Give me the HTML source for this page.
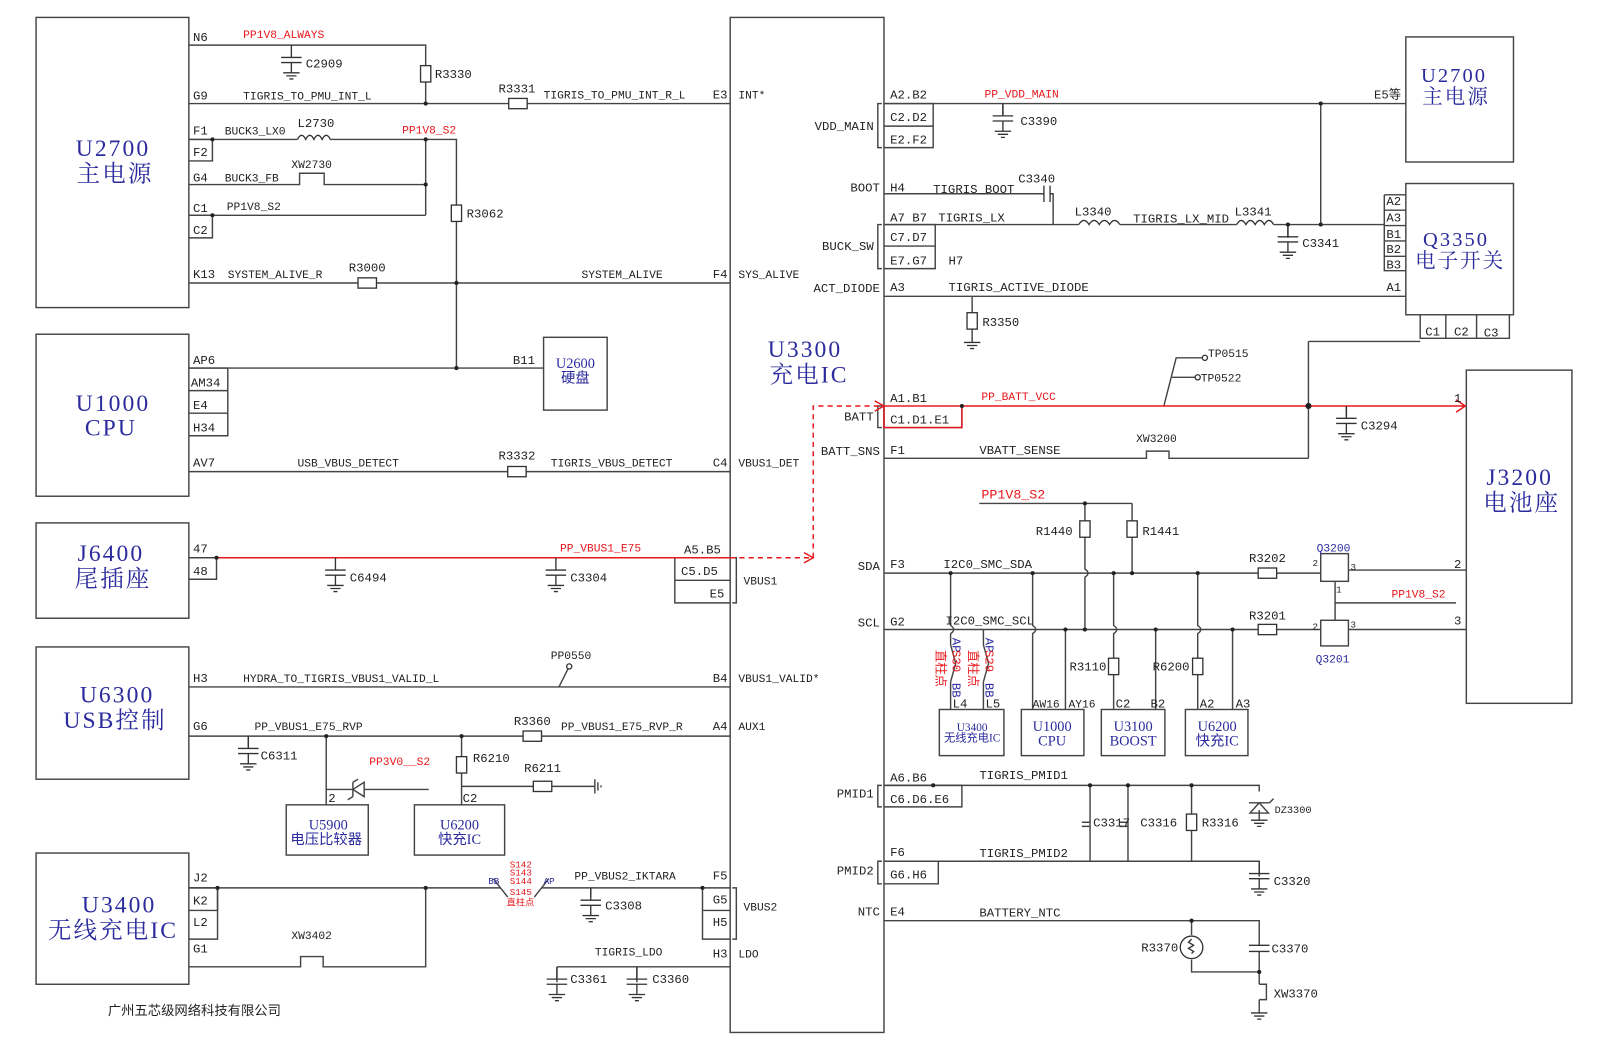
<!DOCTYPE html>
<html><head><meta charset="utf-8"><style>
html,body{margin:0;padding:0;background:#fff}
svg{display:block}
text{font-family:"Liberation Mono","Noto Sans CJK SC",monospace;font-size:12px;fill:#222}
.r{fill:#e8161b}.b{fill:#2b2b9e}
.t{font-family:"Liberation Serif","Noto Serif CJK SC","Noto Sans CJK SC",serif;font-size:23px;fill:#2b2b9e;text-anchor:middle;letter-spacing:2px}
.t2{font-size:20px}
.s{font-family:"Liberation Serif","Noto Sans CJK SC",serif;font-size:14px;fill:#2b2b9e;text-anchor:middle}
.e{text-anchor:end}
</style></head><body>
<svg width="1608" height="1055" viewBox="0 0 1568 1029" xmlns="http://www.w3.org/2000/svg">
<defs>
<g id="cg" fill="none" stroke="#333" stroke-width="1.3"><path d="M0 0V12M-10 12H10M-10 17H10M0 17V27M-8 27H8M-5 30H5M-2 33H2"/></g>
<g id="rv"><rect x="-5" y="-8" width="10" height="16" fill="#fff" stroke="#333" stroke-width="1.3"/></g>
<g id="rh"><rect x="-9" y="-5" width="18" height="10" fill="#fff" stroke="#333" stroke-width="1.3"/></g>
<g id="gnd" fill="none" stroke="#333" stroke-width="1.3"><path d="M-8 0H8M-5 3H5M-2 6H2"/></g>
</defs>
<rect width="1568" height="1029" fill="#fff"/>
<g fill="none" stroke="#444" stroke-width="1.4">
<rect x="35" y="17" width="149" height="283"/>
<rect x="35" y="326" width="149" height="158"/>
<rect x="35" y="510" width="149" height="93"/>
<rect x="35" y="631" width="149" height="129"/>
<rect x="35" y="832" width="149" height="128"/>
<rect x="712" y="17" width="150" height="990"/>
<rect x="1371" y="36" width="105" height="122"/>
<rect x="1371" y="179" width="105" height="128"/>
<rect x="1430" y="361" width="103" height="325"/>
<rect x="530" y="329" width="62" height="71"/>
<rect x="279" y="785" width="80" height="49"/>
<rect x="404" y="785" width="88" height="49"/>
<rect x="916" y="692" width="63" height="45"/>
<rect x="996" y="692" width="61" height="45"/>
<rect x="1074" y="692" width="62" height="45"/>
<rect x="1156" y="692" width="61" height="45"/>
<rect x="1288" y="540" width="27" height="27"/>
<rect x="1288" y="605" width="27" height="25"/>
<path d="M184 136H207V157H184M184 210H207V232H184M184 359H222V425H184M184 381H222M184 403H222M184 544H211V565H184M184 866H212V916H184M184 888H212"/>
<path d="M658 544V588H712M658 566H712M685 866V916H712M685 888H712"/>
<path d="M1350 190H1371M1350 205V264H1371M1350 220H1371M1350 235H1371M1350 250H1371M1350 190V205H1371"/>
<path d="M1385 307V330H1472V307M1410 307V330M1440 307V330"/>
<path d="M862 101H910V144H862M862 123H910M862 219H912V262H862M862 240H912M862 396V417H938V396M862 766H938V787H862M862 840H915V862H862"/>
<path d="M860 101H856V144H860M860 219H856V262H860M860 396H856V417H860M860 766H856V787H860M860 840H856V862H860M714 544H718V588H714M714 866H718V916H714"/>
<path d="M184 44H415V101M184 101H712M184 136H290M322 136H445V200M445 216V359M184 180H292V169H316V180H415M415 136V210M184 210H415M184 276H712M184 359H530M184 460H712M184 670H712M545 670L555 650M184 718H712M318 718V785M318 770H344M355 770H418M450 718V785M450 767H520M538 767H580M184 866H488M528 866H712M212 866V888M184 943H293V933H315V943H415V866M543 943H712M543 943V958M621 943V958M685 866H712M576 866V875M242 718V728"/>
<path d="M344 763V777M355 763L344 770L355 777ZM344 763L349 760M344 777L339 780"/>
<path d="M580 760V774M583 763V771M586 766V768"/>
<path d="M488 866L481 857M488 866L495 875M528 866L535 857M528 866L521 875"/>
<path d="M862 101H1371M1288 101V219M978 101V112M862 189H1018M1024 189H1027V219M862 219H1052M1092 219H1206M1242 219H1350M1256 219V232M862 289H1371M948 289V305M948 321V334M1276 333H1385M1276 333V447M862 447H1118V440H1140V447H1276M1313 396V405M1135 396L1147 349L1172 349M1143 368L1168 368"/>
<path d="M955 491H1104M1058 491V508M1058 524V555Q1064 559 1058 563V614M1104 491V559M862 559H1227M1245 559H1288M862 614H1227M1245 614H1288M1315 556H1430M1315 614H1430M1302 567V605M1302 588H1420"/>
<path d="M927 559V610Q933 614 927 618V629M927 665V692M959 614V629M959 665V692M1007 559V610Q1013 614 1007 618V692M1039 614V692M1086 559V610Q1092 614 1086 618V642M1086 658V692M1127 614V692M1168 559V610Q1174 614 1168 618V642M1168 658V692M1202 614V692"/>
<path d="M927 629L932 647M927 665L932 647M959 629L964 647M959 665L964 647"/>
<path d="M862 766H1228V772M862 840H1228V855M1063 766V840M1100 766V840M1162 766V794M1162 810V840M1055 802H1063M1055 806H1063M1092 802H1100M1092 806H1100M1228 790V800M1218 783L1238 783M1228 783L1219 793H1237ZM1238 783L1242 779M862 898H1228V922M1162 898V912M1162 936V948H1228M1228 928V960M1228 975V988M1228 960H1235V975H1228"/>
</g>
<g fill="none" stroke="#e8161b" stroke-width="1.4">
<path d="M211 544H712"/>
<path d="M712 544H790M793 544V396H860" stroke-dasharray="5 4"/>
<path d="M784 539L793 544L784 549M853 391L862 396L853 401"/>
<path d="M938 396H1428M1420 390L1429 396L1420 402"/>
<rect x="862" y="396" width="76" height="21"/>
</g>
<g fill="none" stroke="#333" stroke-width="1.3">
<path d="M290 136q4-8 8 0q4-8 8 0q4-8 8 0q4-8 8 0"/>
<path d="M1052 219q5-8 10 0q5-8 10 0q5-8 10 0q5-8 10 0"/>
<path d="M1206 219q4.5-8 9 0q4.5-8 9 0q4.5-8 9 0q4.5-8 9 0"/>
<path d="M1018 181V197M1024 181V197"/>
<circle cx="1162" cy="924" r="11" fill="#fff"/>
<path d="M1162 916l-3 3 5 3-5 3 5 3-2 2"/>
<circle cx="555" cy="650" r="2.5" fill="#fff"/>
<circle cx="1175" cy="349" r="2.5" fill="#fff"/>
<circle cx="1168" cy="368" r="2.5" fill="#fff"/>
</g>
<use href="#cg" x="284" y="44"/><use href="#rv" x="415" y="72"/><use href="#rv" x="445" y="208"/>
<use href="#rh" x="505" y="101"/><use href="#rh" x="358" y="276"/><use href="#rh" x="504" y="460"/>
<use href="#cg" x="327" y="544"/><use href="#cg" x="542" y="544"/><use href="#cg" x="242" y="718"/>
<use href="#rh" x="519" y="718"/><use href="#rv" x="450" y="746"/><use href="#rh" x="529" y="767"/>
<use href="#cg" x="576" y="866"/><use href="#cg" x="543" y="943"/><use href="#cg" x="621" y="943"/>
<use href="#cg" x="978" y="101"/><use href="#cg" x="1256" y="219"/><use href="#rv" x="948" y="313"/>
<use href="#gnd" x="948" y="334"/><use href="#cg" x="1313" y="396"/>
<use href="#rv" x="1058" y="516"/><use href="#rv" x="1104" y="516"/>
<use href="#rh" x="1236" y="559"/><use href="#rh" x="1236" y="614"/>
<use href="#rv" x="1086" y="650"/><use href="#rv" x="1168" y="650"/><use href="#rv" x="1162" y="802"/>
<use href="#cg" x="1228" y="840"/><use href="#gnd" x="1228" y="800"/><use href="#gnd" x="1228" y="988"/>
<path d="M1218 922H1238M1218 928H1238" stroke="#333" stroke-width="1.3"/>
<g fill="#222">
<circle cx="415" cy="101" r="2"/><circle cx="415" cy="136" r="2"/><circle cx="415" cy="180" r="2"/><circle cx="207" cy="136" r="2"/><circle cx="207" cy="210" r="2"/><circle cx="445" cy="276" r="2"/><circle cx="445" cy="359" r="2"/><circle cx="211" cy="544" r="2"/><circle cx="318" cy="718" r="2"/><circle cx="450" cy="718" r="2"/><circle cx="212" cy="866" r="2"/><circle cx="415" cy="866" r="2"/><circle cx="685" cy="866" r="2"/><circle cx="1288" cy="101" r="2"/><circle cx="1288" cy="219" r="2"/><circle cx="1256" cy="219" r="2"/><circle cx="1276" cy="396" r="3"/><circle cx="938" cy="396" r="2"/><circle cx="1058" cy="491" r="2"/>
<circle cx="927" cy="559" r="2"/><circle cx="1007" cy="559" r="2"/><circle cx="1086" cy="559" r="2"/><circle cx="1104" cy="559" r="2"/><circle cx="1168" cy="559" r="2"/><circle cx="1039" cy="614" r="2"/><circle cx="1058" cy="614" r="2"/><circle cx="1127" cy="614" r="2"/><circle cx="1202" cy="614" r="2"/><circle cx="910" cy="766" r="2"/><circle cx="1063" cy="766" r="2"/><circle cx="1100" cy="766" r="2"/><circle cx="1162" cy="766" r="2"/><circle cx="1162" cy="898" r="2"/><circle cx="1228" cy="948" r="2"/>
</g>
<text class="t" x="110" y="152">U2700</text><text class="t" x="112" y="177">主电源</text>
<text class="t" x="110" y="401">U1000</text><text class="t" x="108" y="425">CPU</text>
<text class="t" x="108" y="547">J6400</text><text class="t" x="110" y="572">尾插座</text>
<text class="t" x="114" y="685">U6300</text><text class="t" x="112" y="710">USB控制</text>
<text class="t" x="116" y="890">U3400</text><text class="t" x="110" y="915">无线充电IC</text>
<text class="t" x="785" y="348">U3300</text><text class="t" x="789" y="373">充电IC</text>
<text class="t t2" x="1418" y="80">U2700</text><text class="t t2" x="1420" y="101">主电源</text>
<text class="t t2" x="1420" y="240">Q3350</text><text class="t t2" x="1424" y="261">电子开关</text>
<text class="t" x="1482" y="473">J3200</text><text class="t" x="1484" y="498">电池座</text>
<text class="s" x="561" y="359">U2600</text><text class="s" x="561" y="373">硬盘</text>
<text class="s" x="320" y="809">U5900</text><text class="s" x="318" y="823">电压比较器</text>
<text class="s" x="448" y="809">U6200</text><text class="s" x="448" y="823">快充IC</text>
<text class="s" x="948" y="713" style="font-size:11px">U3400</text><text class="s" x="948" y="723" style="font-size:11px">无线充电IC</text>
<text class="s" x="1026" y="713">U1000</text><text class="s" x="1026" y="727">CPU</text>
<text class="s" x="1105" y="713">U3100</text><text class="s" x="1105" y="727">BOOST</text>
<text class="s" x="1187" y="713">U6200</text><text class="s" x="1187" y="727">快充IC</text>
<text x="188" y="40">N6</text><text class="r" x="237" y="37" style="font-size:11px">PP1V8_ALWAYS</text><text x="298" y="66">C2909</text><text x="424" y="76">R3330</text>
<text x="188" y="97">G9</text><text x="237" y="97" style="font-size:11px">TIGRIS_TO_PMU_INT_L</text><text x="486" y="90">R3331</text><text x="530" y="96" style="font-size:11px">TIGRIS_TO_PMU_INT_R_L</text><text x="695" y="96">E3</text><text x="720" y="96" style="font-size:11px">INT*</text>
<text x="188" y="131">F1</text><text x="219" y="131" style="font-size:11px">BUCK3_LX0</text><text x="290" y="124">L2730</text><text class="r" x="392" y="130" style="font-size:11px">PP1V8_S2</text>
<text x="188" y="152">F2</text><text x="188" y="177">G4</text><text x="219" y="177" style="font-size:11px">BUCK3_FB</text><text x="284" y="164" style="font-size:11px">XW2730</text>
<text x="188" y="207">C1</text><text x="221" y="205" style="font-size:11px">PP1V8_S2</text><text x="188" y="228">C2</text><text x="455" y="212">R3062</text>
<text x="188" y="271">K13</text><text x="222" y="271" style="font-size:11px">SYSTEM_ALIVE_R</text><text x="340" y="265">R3000</text><text x="567" y="271" style="font-size:11px">SYSTEM_ALIVE</text><text x="695" y="271">F4</text><text x="720" y="271" style="font-size:11px">SYS_ALIVE</text>
<text x="188" y="355">AP6</text><text x="500" y="355">B11</text><text x="186" y="377">AM34</text><text x="188" y="399">E4</text><text x="188" y="421">H34</text>
<text x="188" y="455">AV7</text><text x="290" y="455" style="font-size:11px">USB_VBUS_DETECT</text><text x="486" y="448">R3332</text><text x="537" y="455" style="font-size:11px">TIGRIS_VBUS_DETECT</text><text x="695" y="455">C4</text><text x="720" y="455" style="font-size:11px">VBUS1_DET</text>
<text x="188" y="539">47</text><text x="188" y="561">48</text><text x="341" y="567">C6494</text><text x="556" y="567">C3304</text><text class="r" x="546" y="538" style="font-size:11px">PP_VBUS1_E75</text>
<text x="667" y="540">A5.B5</text><text x="664" y="561">C5.D5</text><text x="692" y="583">E5</text><text x="725" y="570" style="font-size:11px">VBUS1</text>
<text x="537" y="643" style="font-size:11px">PP0550</text><text x="188" y="665">H3</text><text x="237" y="665" style="font-size:11px">HYDRA_TO_TIGRIS_VBUS1_VALID_L</text><text x="695" y="665">B4</text><text x="720" y="665" style="font-size:11px">VBUS1_VALID*</text>
<text x="188" y="712">G6</text><text x="248" y="712" style="font-size:11px">PP_VBUS1_E75_RVP</text><text x="501" y="707">R3360</text><text x="547" y="712" style="font-size:11px">PP_VBUS1_E75_RVP_R</text><text x="695" y="712">A4</text><text x="720" y="712" style="font-size:11px">AUX1</text>
<text x="254" y="741">C6311</text><text class="r" x="360" y="746" style="font-size:11px">PP3V0__S2</text><text x="461" y="743">R6210</text><text x="511" y="753">R6211</text><text x="320" y="782">2</text><text x="451" y="782">C2</text>
<text x="188" y="860">J2</text><text x="188" y="882">K2</text><text x="188" y="903">L2</text><text x="188" y="929">G1</text><text x="284" y="916" style="font-size:11px">XW3402</text>
<text class="r" x="497" y="846" style="font-size:9px">S142</text><text class="r" x="497" y="854" style="font-size:9px">S143</text><text class="r" x="497" y="862" style="font-size:9px">S144</text><text class="r" x="497" y="873" style="font-size:9px">S145</text><text class="r" x="494" y="883" style="font-size:9px">直柱点</text>
<text class="b" x="476" y="862" style="font-size:9px">BB</text><text class="b" x="530" y="862" style="font-size:9px">AP</text>
<text x="560" y="858" style="font-size:11px">PP_VBUS2_IKTARA</text><text x="695" y="858">F5</text><text x="695" y="881">G5</text><text x="695" y="903">H5</text><text x="725" y="888" style="font-size:11px">VBUS2</text>
<text x="590" y="887">C3308</text><text x="580" y="932" style="font-size:11px">TIGRIS_LDO</text><text x="695" y="934">H3</text><text x="720" y="934" style="font-size:11px">LDO</text>
<text x="556" y="959">C3361</text><text x="636" y="959">C3360</text>
<text x="105" y="990" style="font-family:'Noto Sans CJK SC',sans-serif;font-size:13px">广州五芯级网络科技有限公司</text>
<g style="font-size:11px">
<text class="e" x="852" y="127">VDD_MAIN</text><text class="e" x="858" y="187">BOOT</text><text class="e" x="852" y="244">BUCK_SW</text><text class="e" x="858" y="285">ACT_DIODE</text><text class="e" x="852" y="410">BATT</text><text class="e" x="858" y="444">BATT_SNS</text><text class="e" x="858" y="556">SDA</text><text class="e" x="858" y="611">SCL</text><text class="e" x="852" y="778">PMID1</text><text class="e" x="852" y="853">PMID2</text><text class="e" x="858" y="893">NTC</text>
<text x="910" y="188">TIGRIS_BOOT</text><text x="915" y="216">TIGRIS_LX</text><text x="1105" y="217">TIGRIS_LX_MID</text><text x="925" y="284">TIGRIS_ACTIVE_DIODE</text><text x="955" y="443">VBATT_SENSE</text><text x="920" y="554">I2C0_SMC_SDA</text><text x="922" y="609">I2C0_SMC_SCL</text><text x="955" y="760">TIGRIS_PMID1</text><text x="955" y="836">TIGRIS_PMID2</text><text x="955" y="894">BATTERY_NTC</text><text x="1243" y="793" style="font-size:10px">DZ3300</text>
</g>
<text x="868" y="96">A2.B2</text><text x="868" y="118">C2.D2</text><text x="868" y="140">E2.F2</text><text class="r" x="960" y="95" style="font-size:11px">PP_VDD_MAIN</text><text x="995" y="122">C3390</text><text x="1340" y="96">E5等</text>
<text x="868" y="187">H4</text><text x="993" y="178">C3340</text><text x="868" y="216">A7 B7</text><text x="868" y="235">C7.D7</text><text x="868" y="258">E7.G7</text><text x="925" y="258">H7</text>
<text x="1048" y="210">L3340</text><text x="1204" y="210">L3341</text><text x="1270" y="241">C3341</text><text x="958" y="318">R3350</text>
<text x="1352" y="200">A2</text><text x="1352" y="216">A3</text><text x="1352" y="232">B1</text><text x="1352" y="247">B2</text><text x="1352" y="262">B3</text><text x="1352" y="284">A1</text>
<text x="1390" y="327">C1</text><text x="1418" y="327">C2</text><text x="1447" y="328">C3</text>
<text x="868" y="284">A3</text><text x="868" y="392">A1.B1</text><text x="868" y="413">C1.D1.E1</text><text class="r" x="957" y="390" style="font-size:11px">PP_BATT_VCC</text>
<text x="1178" y="348" style="font-size:11px">TP0515</text><text x="1171" y="372" style="font-size:11px">TP0522</text><text x="1418" y="392">1</text><text x="1327" y="419">C3294</text>
<text x="868" y="443">F1</text><text x="1108" y="431" style="font-size:11px">XW3200</text>
<text class="r" x="957" y="486" style="font-size:13px">PP1V8_S2</text><text x="1010" y="522">R1440</text><text x="1114" y="522">R1441</text>
<text x="868" y="554">F3</text><text x="868" y="610">G2</text><text x="1218" y="548">R3202</text><text x="1218" y="604">R3201</text>
<text class="b" x="1284" y="538" style="font-size:11px">Q3200</text><text class="b" x="1283" y="646" style="font-size:11px">Q3201</text>
<text x="1280" y="552" style="font-size:9px">2</text><text x="1317" y="556" style="font-size:9px">3</text><text x="1303" y="578" style="font-size:9px">1</text><text x="1280" y="614" style="font-size:9px">2</text><text x="1317" y="612" style="font-size:9px">3</text>
<text x="1418" y="554">2</text><text x="1418" y="609">3</text><text class="r" x="1357" y="583" style="font-size:11px">PP1V8_S2</text>
<text x="1043" y="654">R3110</text><text x="1124" y="654">R6200</text>
<text x="929" y="690">L4</text><text x="961" y="690">L5</text><text x="1007" y="690" style="font-size:11px">AW16</text><text x="1042" y="690" style="font-size:11px">AY16</text><text x="1088" y="690">C2</text><text x="1122" y="690">B2</text><text x="1170" y="690">A2</text><text x="1205" y="690">A3</text>
<g style="font-size:8px"><text class="r" transform="translate(913,634) rotate(90)">直柱点</text><text class="r" transform="translate(945,634) rotate(90)">直柱点</text><text class="b" transform="translate(929,622) rotate(90)">AP</text><text class="r" transform="translate(929,634) rotate(90)">S30</text><text class="b" transform="translate(929,666) rotate(90)">BB</text><text class="b" transform="translate(961,622) rotate(90)">AP</text><text class="r" transform="translate(961,634) rotate(90)">S29</text><text class="b" transform="translate(961,666) rotate(90)">BB</text></g>
<text x="868" y="762">A6.B6</text><text x="868" y="783">C6.D6.E6</text><text x="868" y="835">F6</text><text x="868" y="857">G6.H6</text><text x="868" y="893">E4</text>
<text x="1066" y="806">C3317</text><text x="1112" y="806">C3316</text><text x="1172" y="806">R3316</text><text x="1242" y="863">C3320</text>
<text x="1113" y="928">R3370</text><text x="1240" y="929">C3370</text><text x="1242" y="973">XW3370</text>
</svg>
</body></html>
